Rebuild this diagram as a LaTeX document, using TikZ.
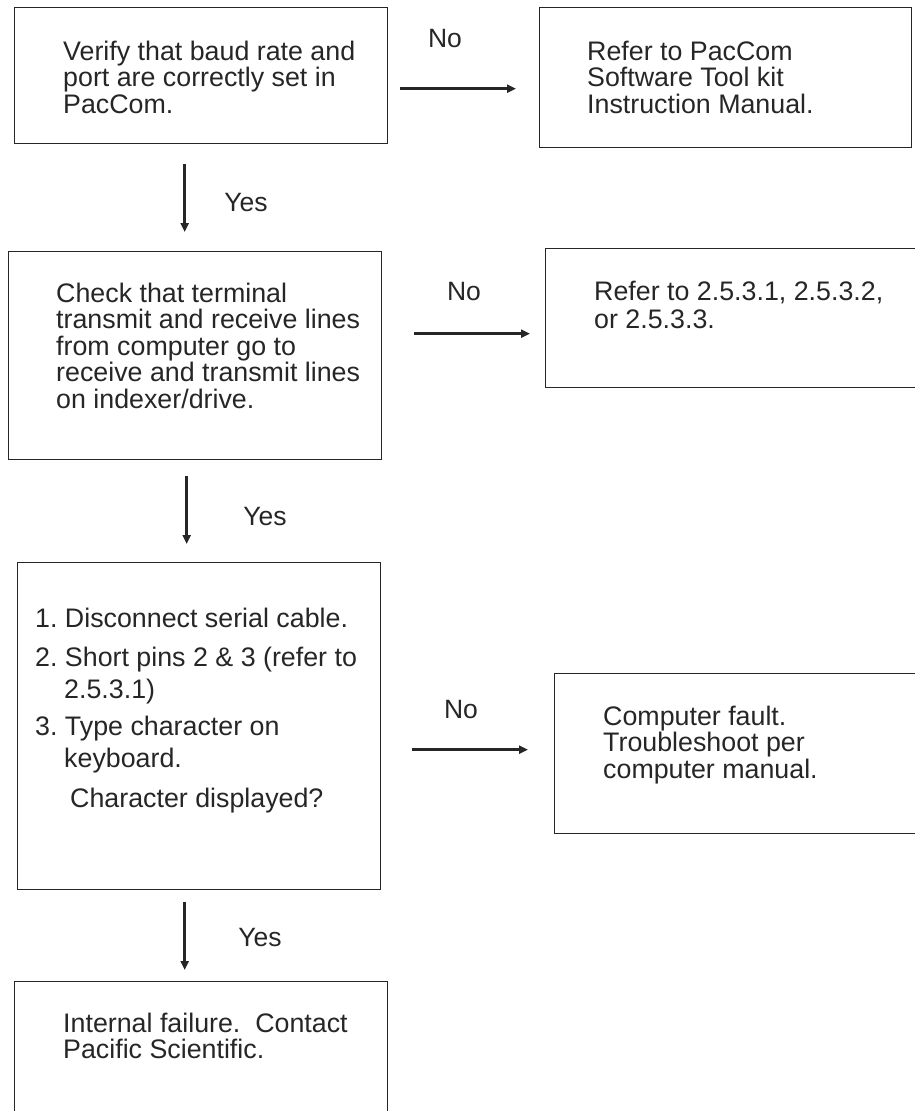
\documentclass[tikz,border=0pt]{standalone}
\usepackage{fontspec}
\setmainfont{Liberation Sans}
\frenchspacing
\usetikzlibrary{arrows.meta}
\tikzset{
  stepbox/.style={draw=black!85, line width=1.4pt, anchor=north west, inner sep=0pt},
  boxtext/.style={anchor=north west, align=left, inner sep=0pt, text=black!85,
    font=\fontsize{26.8}{26.6}\selectfont},
  answer/.style={text=black!85, inner sep=0pt, font=\fontsize{26.5}{26.5}\selectfont},
  flow/.style={line width=3.4pt, draw=black!85, -{Triangle[length=9pt,width=8pt]}}
}
\begin{document}
\begin{tikzpicture}[x=1pt, y=-1pt]
  \useasboundingbox (0,0) rectangle (915,1111);
  \clip (0,0) rectangle (915,1111);

  % boxes
  \node[stepbox, minimum width=373pt, minimum height=136pt] (verify) at (14,7) {};
  \node[stepbox, minimum width=372pt, minimum height=140pt] (manual) at (539,7) {};
  \node[stepbox, minimum width=373pt, minimum height=208pt] (lines) at (8,251) {};
  \node[stepbox, minimum width=380pt, minimum height=139pt] (refer) at (545,248) {};
  \node[stepbox, minimum width=363pt, minimum height=327pt] (serial) at (17,562) {};
  \node[stepbox, minimum width=380pt, minimum height=160pt] (fault) at (554,673) {};
  \node[stepbox, minimum width=373pt, minimum height=150pt] (failure) at (14,981) {};

  % texts
  \node[boxtext] (verifytext) at (63,40.5)
    {Verify that baud rate and\\port are correctly set in\\PacCom.};
  \node[boxtext] (manualtext) at (587,40.5)
    {Refer to PacCom\\Software Tool kit\\Instruction Manual.};
  \node[boxtext] (linestext) at (56,282.5)
    {Check that terminal\\transmit and receive lines\\from computer go to\\receive and transmit lines\\on indexer/drive.};
  \node[boxtext, font=\fontsize{26.8}{28}\selectfont] (refertext) at (594,280.5)
    {Refer to 2.5.3.1, 2.5.3.2,\\or 2.5.3.3.};
  \node[boxtext, font=\fontsize{26.8}{31.5}\selectfont] (serialtext) at (35,607.5)
    {1. Disconnect serial cable.\\[8pt]
     2. Short pins 2 \& 3 (refer to\\
     \hspace*{29pt}2.5.3.1)\\[6pt]
     3. Type character on\\
     \hspace*{29pt}keyboard.\\[8.5pt]
     \hspace*{35pt}Character displayed?};
  \node[boxtext] (faulttext) at (603,705.5)
    {Computer fault.\\Troubleshoot per\\computer manual.};
  \node[boxtext] (failuretext) at (63,1012.5)
    {Internal failure.\ \ Contact\\Pacific Scientific.};

  % connectors
  \draw[flow, shorten <=12pt, shorten >=23pt]
    ([yshift=-13pt]verify.east) -- ([yshift=-13pt]verify.east -| manual.west);
  \draw[flow, shorten <=32pt, shorten >=15pt]
    ([yshift=22pt]lines.east) -- ([yshift=22pt]lines.east -| refer.west);
  \draw[flow, shorten <=31pt, shorten >=26pt]
    ([yshift=-23.5pt]serial.east) -- ([yshift=-23.5pt]serial.east -| fault.west);
  \draw[flow, shorten <=20pt, shorten >=19pt]
    ([xshift=-16.5pt]verify.south) -- ([xshift=-16.5pt]verify.south |- lines.north);
  \draw[flow, shorten <=16pt, shorten >=18pt]
    ([xshift=-8.5pt]lines.south) -- ([xshift=-8.5pt]lines.south |- serial.north);
  \draw[flow, shorten <=12pt, shorten >=11pt]
    ([xshift=-14.5pt]serial.south) -- ([xshift=-14.5pt]serial.south |- failure.north);

  % answers
  \node[answer] (no1) at (445,39) {No};
  \node[answer] (no2) at (464,292) {No};
  \node[answer] (no3) at (461,710) {No};
  \node[answer] (yes1) at (246,203) {Yes};
  \node[answer] (yes2) at (265,517) {Yes};
  \node[answer] (yes3) at (260,938) {Yes};
\end{tikzpicture}
\end{document}
